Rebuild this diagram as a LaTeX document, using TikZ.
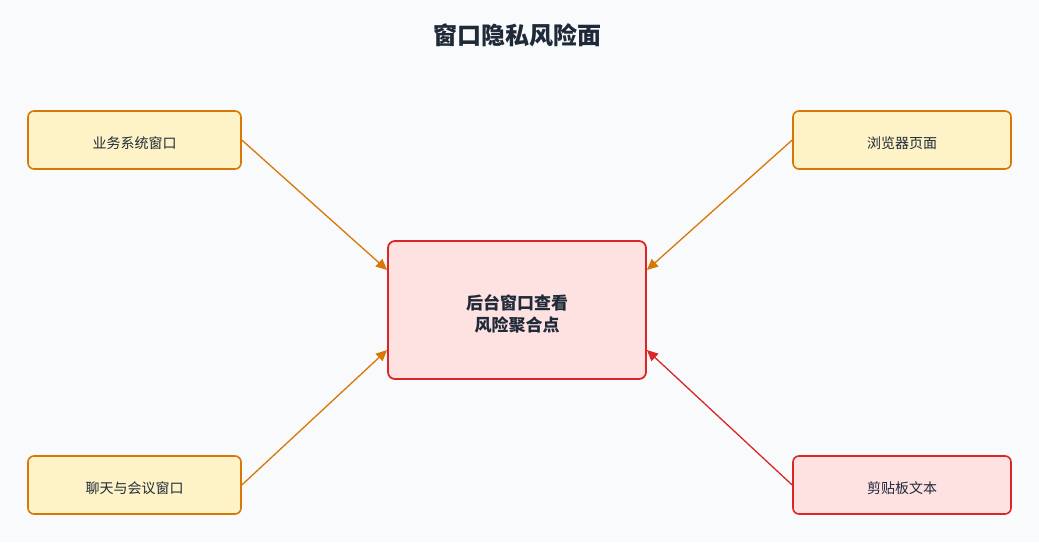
\documentclass[tikz,border=0pt]{standalone}
\usepackage{fontspec}
\setmainfont{Noto Sans CJK SC}
\usetikzlibrary{arrows.meta}
\definecolor{bg}{HTML}{F8FAFC}
\definecolor{ored}{HTML}{D97706}
\definecolor{ofill}{HTML}{FEF3C7}
\definecolor{rred}{HTML}{DC2626}
\definecolor{rfill}{HTML}{FEE2E2}
\definecolor{ink}{HTML}{1F2937}
\begin{document}
\begin{tikzpicture}[x=1pt,y=-1pt,
  obox/.style={draw=ored,fill=ofill,line width=1.6pt,rounded corners=6pt,minimum width=213pt,minimum height=58pt,inner sep=0pt,text=ink,text height=16pt,text depth=0pt,font=\fontsize{14}{16}\selectfont},
  rbox/.style={draw=rred,fill=rfill,line width=1.6pt,rounded corners=6pt,minimum width=218pt,minimum height=58pt,inner sep=0pt,text=ink,text height=16pt,text depth=0pt,font=\fontsize{14}{16}\selectfont},
  hub/.style={draw=rred,fill=rfill,line width=1.8pt,rounded corners=7pt,minimum width=258pt,minimum height=138pt,inner sep=0pt},
  hubtext/.style={text=ink,align=center,inner sep=0pt,font=\bfseries\fontsize{17}{22}\selectfont},
  oarr/.style={draw=ored,line width=1.3pt,-{Triangle[length=11pt,width=10pt]}},
  rarr/.style={draw=rred,line width=1.3pt,-{Triangle[length=11pt,width=10pt]}}]
\fill[bg] (0,0) rectangle (1039,542);
\useasboundingbox (0,0) rectangle (1039,542);
\node[text=ink,font=\bfseries\fontsize{24}{28}\selectfont] (title) at (517,35) {窗口隐私风险面};
\node[hub] (hub) at (517,310) {};
\node[hubtext] (hubt) at ([yshift=-3.5pt]hub.center) {后台窗口查看\\风险聚合点};
\node[obox] (tl) at (134.5,140) {业务系统窗口};
\node[rbox,draw=ored,fill=ofill] (tr) at (902,140) {浏览器页面};
\node[obox] (bl) at (134.5,485) {聊天与会议窗口};
\node[rbox] (br) at (902,485) {剪贴板文本};
\coordinate (hul) at ([yshift=40pt]hub.west);
\coordinate (hur) at ([yshift=40pt]hub.east);
\coordinate (hll) at ([yshift=-40pt]hub.west);
\coordinate (hlr) at ([yshift=-40pt]hub.east);
\draw[oarr] (tl.east) -- (hul);
\draw[oarr] (tr.west) -- (hur);
\draw[oarr] (bl.east) -- (hll);
\draw[rarr] (br.west) -- (hlr);
\end{tikzpicture}
\end{document}
